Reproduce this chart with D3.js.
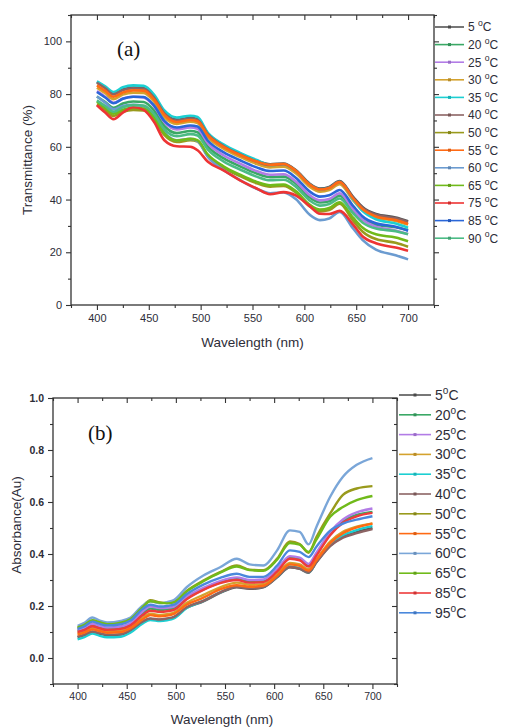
<!DOCTYPE html>
<html lang="en">
<head>
<meta charset="UTF-8">
<title>Transmittance and absorbance spectra</title>
<script src="https://d3js.org/d3.v7.min.js"></script>
<style>
  body { margin: 0; background: #fff; }
  text { font-family: "Liberation Sans", Arial, sans-serif; fill: #2d2d38; }
  .panel-tag { font-family: "Liberation Serif", "Times New Roman", serif; fill: #111; }
  .axis text { font-size: 11px; }
  .axis line { stroke: #333; stroke-width: 1.1; }
  .axis path { display: none; }
</style>
</head>
<body>
<div id="chart"></div>
<script>
// ---- panel (a): transmittance ----
const wlA = [400, 408, 416, 425, 435, 445, 455, 465, 477, 490, 497, 507, 522, 538, 554, 567, 580, 592, 605, 615, 624, 634, 647, 656, 669, 688, 700];
const tA5  = [84.6, 82.5, 80.2, 81.8, 82.5, 82.3, 79.0, 73.0, 70.3, 71.0, 70.5, 65.0, 60.6, 57.4, 54.7, 53.4, 53.7, 51.1, 46.1, 44.2, 44.8, 47.0, 41.0, 37.2, 34.5, 33.2, 31.8];
const tA20 = [79.1, 77.0, 74.8, 76.4, 77.2, 77.0, 73.8, 67.9, 65.2, 66.0, 65.5, 60.1, 55.7, 52.6, 49.9, 48.5, 48.7, 46.0, 40.9, 38.9, 39.4, 41.5, 36.0, 32.6, 30.4, 29.5, 28.4];
const tA25 = [81.1, 79.0, 76.7, 78.3, 79.0, 78.7, 75.4, 69.4, 66.6, 67.3, 66.8, 61.3, 56.8, 53.6, 50.8, 49.4, 49.6, 46.8, 41.7, 39.7, 40.2, 42.4, 36.3, 32.4, 29.7, 28.3, 26.9];
const tA30 = [82.4, 80.3, 78.1, 79.8, 80.5, 80.4, 77.2, 71.3, 68.7, 69.5, 69.0, 63.6, 59.3, 56.2, 53.5, 52.2, 52.5, 49.9, 44.9, 43.0, 43.6, 45.8, 39.7, 35.9, 33.2, 31.9, 30.5];
const tA35 = [84.8, 82.9, 80.8, 82.6, 83.3, 83.1, 79.8, 73.8, 71.1, 71.8, 71.3, 65.3, 60.9, 57.7, 55.0, 53.1, 53.4, 50.8, 45.8, 43.9, 44.5, 46.7, 40.0, 35.7, 32.5, 30.9, 29.3];
const tA40 = [84.3, 82.2, 79.9, 81.5, 82.2, 82.0, 78.7, 72.7, 70.0, 70.7, 70.2, 64.7, 60.3, 57.1, 54.4, 53.1, 53.4, 50.8, 45.8, 43.9, 44.5, 46.7, 40.7, 36.9, 34.2, 32.9, 31.5];
const tA50 = [76.1, 74.0, 71.7, 73.3, 74.0, 73.8, 70.5, 64.5, 61.8, 62.5, 62.0, 56.5, 52.1, 48.9, 46.2, 44.9, 45.2, 42.6, 37.5, 35.5, 36.0, 38.4, 32.0, 27.9, 25.0, 23.6, 22.1];
const tA55 = [83.3, 81.2, 79.0, 80.6, 81.4, 81.3, 78.0, 72.1, 69.4, 70.2, 69.7, 64.3, 60.0, 56.9, 54.4, 53.2, 53.5, 50.8, 45.7, 43.8, 44.4, 46.6, 40.4, 36.4, 33.6, 32.2, 30.7];
const tA60 = [79.1, 76.7, 74.2, 75.5, 75.9, 75.4, 71.8, 65.5, 62.5, 63.0, 62.2, 56.2, 51.2, 47.4, 44.1, 42.4, 42.7, 40.1, 34.3, 32.2, 32.8, 35.3, 29.0, 24.7, 21.0, 18.9, 17.3];
const tA65 = [77.1, 74.9, 72.6, 74.1, 74.8, 74.5, 71.2, 65.1, 62.4, 63.0, 62.5, 57.0, 52.6, 49.4, 46.7, 45.4, 45.7, 43.1, 38.1, 36.2, 36.8, 39.0, 33.1, 29.4, 26.8, 25.6, 24.2];
const tA75 = [75.8, 73.0, 70.5, 73.0, 75.0, 74.0, 69.5, 62.5, 60.2, 60.0, 58.7, 54.3, 51.1, 47.3, 44.2, 42.0, 42.8, 41.5, 37.5, 34.6, 34.5, 35.7, 30.5, 26.1, 23.4, 21.8, 20.6];
const tA85 = [80.8, 78.7, 76.5, 78.2, 79.0, 78.9, 75.7, 69.8, 67.3, 68.1, 67.7, 62.3, 58.0, 54.9, 52.2, 50.8, 51.0, 48.2, 43.1, 41.1, 41.6, 43.6, 37.6, 33.7, 31.0, 29.7, 28.2];
const tA90 = [77.6, 75.5, 73.3, 75.0, 75.8, 75.7, 72.5, 66.6, 64.0, 64.8, 64.3, 58.9, 54.5, 51.4, 48.7, 47.3, 47.5, 44.8, 39.7, 37.7, 38.3, 40.4, 34.8, 31.3, 29.0, 28.0, 26.8];
const tempsA = ["5", "20", "25", "30", "35", "40", "50", "55", "60", "65", "75", "85", "90"];
const seriesA = [tA5, tA20, tA25, tA30, tA35, tA40, tA50, tA55, tA60, tA65, tA75, tA85, tA90];
const yTicksA = [0, 20, 40, 60, 80, 100];

// ---- panel (b): absorbance ----
const wlB = [400, 407, 415, 422, 430, 444, 454, 466, 474, 484, 491, 498, 511, 528, 545, 562, 575, 589, 603, 616, 626, 635, 643, 657, 670, 684, 700];
const aB5  = [0.080, 0.088, 0.100, 0.094, 0.088, 0.090, 0.106, 0.138, 0.150, 0.147, 0.150, 0.156, 0.193, 0.218, 0.250, 0.272, 0.266, 0.272, 0.310, 0.349, 0.343, 0.328, 0.368, 0.432, 0.466, 0.484, 0.500];
const aB20 = [0.104, 0.113, 0.128, 0.120, 0.113, 0.117, 0.131, 0.172, 0.190, 0.185, 0.187, 0.192, 0.230, 0.264, 0.290, 0.304, 0.294, 0.296, 0.336, 0.386, 0.380, 0.356, 0.398, 0.478, 0.525, 0.550, 0.562];
const aB25 = [0.108, 0.117, 0.132, 0.124, 0.117, 0.121, 0.135, 0.178, 0.198, 0.192, 0.193, 0.198, 0.236, 0.270, 0.296, 0.310, 0.300, 0.302, 0.342, 0.392, 0.386, 0.362, 0.405, 0.485, 0.533, 0.560, 0.575];
const aB30 = [0.095, 0.103, 0.116, 0.109, 0.102, 0.105, 0.120, 0.155, 0.170, 0.166, 0.169, 0.175, 0.212, 0.243, 0.272, 0.290, 0.282, 0.284, 0.322, 0.366, 0.360, 0.342, 0.380, 0.448, 0.485, 0.505, 0.518];
const aB35 = [0.072, 0.080, 0.094, 0.086, 0.080, 0.082, 0.098, 0.132, 0.146, 0.142, 0.145, 0.152, 0.192, 0.220, 0.252, 0.276, 0.270, 0.275, 0.312, 0.352, 0.346, 0.330, 0.370, 0.436, 0.472, 0.492, 0.507];
const aB40 = [0.082, 0.090, 0.102, 0.096, 0.090, 0.092, 0.108, 0.140, 0.152, 0.148, 0.152, 0.158, 0.195, 0.220, 0.252, 0.274, 0.268, 0.274, 0.312, 0.350, 0.344, 0.330, 0.368, 0.430, 0.463, 0.480, 0.496];
const aB50 = [0.115, 0.125, 0.143, 0.136, 0.128, 0.134, 0.148, 0.196, 0.222, 0.214, 0.212, 0.215, 0.258, 0.298, 0.330, 0.356, 0.340, 0.338, 0.382, 0.448, 0.438, 0.405, 0.465, 0.556, 0.627, 0.652, 0.661];
const aB55 = [0.090, 0.098, 0.110, 0.104, 0.097, 0.100, 0.115, 0.148, 0.165, 0.160, 0.163, 0.170, 0.205, 0.232, 0.264, 0.280, 0.274, 0.278, 0.316, 0.360, 0.354, 0.336, 0.376, 0.442, 0.480, 0.502, 0.517];
const aB60 = [0.124, 0.135, 0.156, 0.145, 0.137, 0.143, 0.156, 0.201, 0.218, 0.210, 0.215, 0.223, 0.272, 0.317, 0.349, 0.382, 0.360, 0.356, 0.414, 0.491, 0.485, 0.437, 0.504, 0.620, 0.697, 0.743, 0.769];
const aB65 = [0.118, 0.128, 0.145, 0.138, 0.130, 0.136, 0.150, 0.195, 0.218, 0.212, 0.210, 0.214, 0.256, 0.295, 0.328, 0.352, 0.338, 0.335, 0.378, 0.442, 0.436, 0.408, 0.455, 0.543, 0.581, 0.607, 0.623];
const aB85 = [0.100, 0.108, 0.122, 0.115, 0.108, 0.112, 0.126, 0.164, 0.182, 0.178, 0.180, 0.185, 0.226, 0.262, 0.288, 0.300, 0.290, 0.292, 0.332, 0.382, 0.376, 0.352, 0.394, 0.472, 0.520, 0.545, 0.558];
const aB95 = [0.112, 0.122, 0.140, 0.132, 0.125, 0.130, 0.144, 0.188, 0.205, 0.198, 0.200, 0.205, 0.245, 0.282, 0.308, 0.324, 0.312, 0.312, 0.355, 0.414, 0.408, 0.388, 0.428, 0.490, 0.517, 0.532, 0.545];
const tempsB = ["5", "20", "25", "30", "35", "40", "50", "55", "60", "65", "85", "95"];
const seriesB = [aB5, aB20, aB25, aB30, aB35, aB40, aB50, aB55, aB60, aB65, aB85, aB95];
const yTicksB = [0, 0.2, 0.4, 0.6, 0.8, 1.0];

const xTicks = [400, 450, 500, 550, 600, 650, 700];

// line colours, same order as the temperature lists (Origin-like palette)
const colorsA = ["#555555", "#3aa865", "#b27ce6", "#d4a22e", "#1ccfd2", "#8c6464", "#999a1c",
                 "#ff6a14", "#6b9bd0", "#70ba1a", "#ee3434", "#2a66d8", "#4bbb85"];
const colorsB = ["#555555", "#3aa865", "#b27ce6", "#d4a22e", "#1ccfd2", "#8c6464", "#999a1c",
                 "#ff6a14", "#7aa6d8", "#70ba1a", "#ee3b3b", "#4a88dc"];

const svg = d3.select("#chart").append("svg")
  .attr("width", 508)
  .attr("height", 727);

function drawPanel(o) {
  const x = d3.scaleLinear().domain([375, 725]).range([o.left, o.right]);
  const y = d3.scaleLinear().domain(o.yDomain).range([o.bottom, o.top]);
  const g = svg.append("g");

  // minor ticks
  const xMinor = d3.range(375, 726, 25).filter(v => !xTicks.includes(v));
  g.append("g").attr("class", "axis").attr("transform", `translate(0,${o.bottom})`)
    .call(d3.axisBottom(x).tickValues(xMinor).tickSize(3).tickFormat(""));
  g.append("g").attr("class", "axis").attr("transform", `translate(0,${o.top})`)
    .call(d3.axisTop(x).tickValues(xMinor).tickSize(-3).tickFormat(""));
  g.append("g").attr("class", "axis").attr("transform", `translate(${o.left},0)`)
    .call(d3.axisLeft(y).tickValues(o.yMinor).tickSize(3).tickFormat(""));
  g.append("g").attr("class", "axis").attr("transform", `translate(${o.right},0)`)
    .call(d3.axisRight(y).tickValues(o.yMinor).tickSize(o.rightIn ? -3 : 3).tickFormat(""));

  // major ticks + labels
  const xb = g.append("g").attr("class", "axis").attr("transform", `translate(0,${o.bottom})`)
    .call(d3.axisBottom(x).tickValues(xTicks).tickSize(5).tickPadding(4));
  xb.selectAll("text").style("font-size", o.tickFont + "px");
  g.append("g").attr("class", "axis").attr("transform", `translate(0,${o.top})`)
    .call(d3.axisTop(x).tickValues(xTicks).tickSize(-5).tickFormat(""));
  const yl = g.append("g").attr("class", "axis").attr("transform", `translate(${o.left},0)`)
    .call(d3.axisLeft(y).tickValues(o.yTicks).tickSize(5).tickPadding(4).tickFormat(o.yFormat));
  yl.selectAll("text").style("font-size", o.tickFont + "px").style("font-weight", o.yBold ? "bold" : null);
  g.append("g").attr("class", "axis").attr("transform", `translate(${o.right},0)`)
    .call(d3.axisRight(y).tickValues(o.yTicks).tickSize(o.rightIn ? -5 : 5).tickFormat(""));

  // spectra
  const clipId = "clip" + o.id;
  svg.append("clipPath").attr("id", clipId).append("rect")
    .attr("x", o.left).attr("y", o.top)
    .attr("width", o.right - o.left).attr("height", o.bottom - o.top);

  const line = d3.line()
    .x((d, i) => x(o.wl[i]))
    .y(d => y(d))
    .curve(d3.curveMonotoneX);

  g.append("g").attr("clip-path", `url(#${clipId})`)
    .selectAll("path")
    .data(o.series)
    .join("path")
    .attr("fill", "none")
    .attr("stroke", (d, i) => o.colors[i])
    .attr("stroke-width", o.lineWidth)
    .attr("stroke-linejoin", "round")
    .attr("d", line);

  // frame
  g.append("rect")
    .attr("x", o.left).attr("y", o.top)
    .attr("width", o.right - o.left).attr("height", o.bottom - o.top)
    .attr("fill", "none").attr("stroke", "#333").attr("stroke-width", 1.3);

  // axis titles
  g.append("text")
    .attr("x", (o.left + o.right) / 2 + o.xTitleShift).attr("y", o.xTitleY)
    .attr("text-anchor", "middle").style("font-size", "13.5px")
    .text("Wavelength (nm)");
  g.append("text")
    .attr("transform", `translate(${o.yTitleX},${o.yTitleY}) rotate(-90)`)
    .attr("text-anchor", "middle").style("font-size", "13.5px")
    .text(o.yTitle);

  // panel tag
  g.append("text").attr("class", "panel-tag")
    .attr("x", o.tagX).attr("y", o.tagY)
    .style("font-size", "21px")
    .text(o.tag);

  // legend
  const leg = g.selectAll(".leg")
    .data(o.temps)
    .join("g")
    .attr("transform", (d, i) => `translate(${o.legX},${o.legY + i * o.legStep})`);
  leg.append("line")
    .attr("x1", 0).attr("x2", o.legLen)
    .attr("stroke", (d, i) => o.colors[i]).attr("stroke-width", 1.6);
  leg.append("rect")
    .attr("x", o.legLen / 2 - 1.5).attr("y", -1.5).attr("width", 3).attr("height", 3)
    .attr("fill", (d, i) => d3.color(o.colors[i]).darker(0.4));
  const lt = leg.append("text")
    .attr("x", o.legLen + 4).attr("y", o.legFont * 0.36)
    .style("font-size", o.legFont + "px");
  lt.append("tspan").text(d => d + o.legSpace);
  lt.append("tspan").attr("dy", -o.legFont * 0.42).style("font-size", (o.legFont * 0.72) + "px").text("o");
  lt.append("tspan").attr("dy", o.legFont * 0.42).text("C");
}

drawPanel({
  id: "A", left: 71, right: 434, top: 15, bottom: 305,
  yDomain: [0, 110], yTicks: yTicksA, yMinor: [10, 30, 50, 70, 90, 110],
  yFormat: d3.format("d"), yBold: false, rightIn: false, tickFont: 11,
  wl: wlA, series: seriesA, temps: tempsA, colors: colorsA, lineWidth: 2.6,
  xTitleY: 347, xTitleShift: 0, yTitleX: 32, yTitleY: 160, yTitle: "Transmittance (%)",
  tag: "(a)", tagX: 117, tagY: 56,
  legX: 435, legY: 27, legStep: 17.6, legLen: 29, legFont: 12, legSpace: " "
});

drawPanel({
  id: "B", left: 53, right: 397, top: 398, bottom: 684,
  yDomain: [-0.1, 1.0], yTicks: yTicksB, yMinor: [-0.1, 0.1, 0.3, 0.5, 0.7, 0.9],
  yFormat: d3.format(".1f"), yBold: true, rightIn: true, tickFont: 10.5,
  wl: wlB, series: seriesB, temps: tempsB, colors: colorsB, lineWidth: 2.4,
  xTitleY: 724, xTitleShift: -3, yTitleX: 21, yTitleY: 525, yTitle: "Absorbance(Au)",
  tag: "(b)", tagX: 88, tagY: 440,
  legX: 399, legY: 395, legStep: 19.8, legLen: 32, legFont: 14, legSpace: ""
});
</script>
</body>
</html>
